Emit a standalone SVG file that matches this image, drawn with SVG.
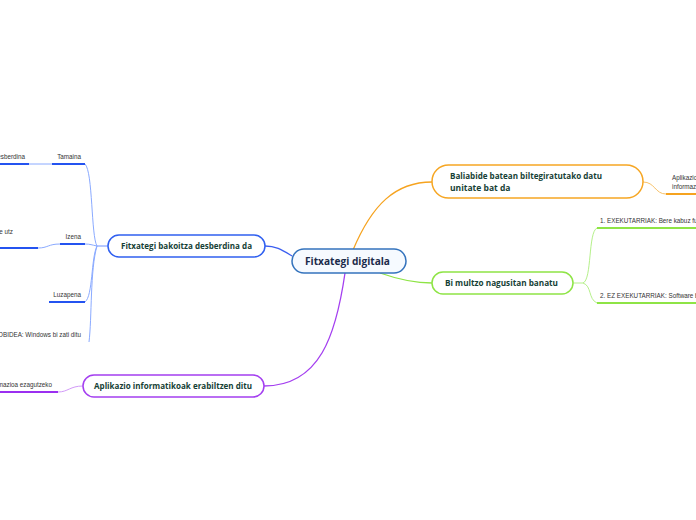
<svg xmlns="http://www.w3.org/2000/svg" width="696" height="520" viewBox="0 0 696 520">
<style>
.bg{fill:#ffffff}
.node{fill:#ffffff;stroke-width:1.5}
.nt{font-family:"Open Sans","Noto Sans",sans-serif;font-weight:700;font-size:8.5px;fill:#163f36}
.ct{font-family:"Open Sans","Noto Sans",sans-serif;font-weight:700;font-size:11px;fill:#1b2b4b}
.st{font-family:"Liberation Sans","Open Sans",sans-serif;font-size:6.3px;fill:#333333}
.c{fill:none}
.thin{fill:none;stroke-width:1}
.ul{fill:none;stroke-width:2}
</style>
<rect class="bg" x="0" y="0" width="696" height="520"/>
<g id="connectors">
  <path class="c" d="M292,256 C282,250 276,246 265,246" stroke="#3b5ef0" stroke-width="1.3"/>
  <path class="c" d="M353,250 C372,205 395,182 432,182" stroke="#f6a31f" stroke-width="1.3"/>
  <path class="c" d="M380,273 C400,280 414,283 432,283" stroke="#8ee445" stroke-width="1.3"/>
  <path class="c" d="M345,273 C336,335 320,386 264,386" stroke="#a43ff0" stroke-width="1.3"/>
  <!-- left sub-branches -->
  <path class="thin" d="M108,246 L97,246" stroke="#6f92ff"/>
  <path class="thin" d="M97,246 C91,236 93,172 85,164" stroke="#8aaaff"/>
  <path class="thin" d="M97,246 C92,245 90,244 85,244" stroke="#8aaaff"/>
  <path class="thin" d="M97,246 C91,258 93,296 85,302" stroke="#8aaaff"/>
  <path class="thin" d="M97,246 C90,270 92,318 89,342" stroke="#8aaaff"/>
  <path class="ul" d="M52,164 L85,164" stroke="#2453f0"/>
  <path class="thin" d="M29,164 L52,164" stroke="#8aaaff"/>
  <path class="ul" d="M0,164 L29,164" stroke="#2453f0"/>
  <path class="ul" d="M60,244 L85,244" stroke="#2453f0"/>
  <path class="thin" d="M38,248 C48,248 48,244 60,244" stroke="#8aaaff"/>
  <path class="ul" d="M0,248 L38,248" stroke="#2453f0"/>
  <path class="ul" d="M49,302 L85,302" stroke="#2453f0"/>
  <!-- purple sub-branch -->
  <path class="thin" d="M83,386 C70,386 68,392 58,392" stroke="#d29af8"/>
  <path class="ul" d="M0,392 L58,392" stroke="#9b2ff0"/>
  <!-- orange sub-branch -->
  <path class="thin" d="M643,182 C655,182 655,194 666,194" stroke="#f8c26a"/>
  <path class="ul" d="M666,194 L696,194" stroke="#f6a31f"/>
  <!-- green sub-branches -->
  <path class="thin" d="M573,283 L583,283" stroke="#b5f08a"/>
  <path class="thin" d="M583,283 C592,280 588,232 597,228" stroke="#b5f08a"/>
  <path class="thin" d="M583,283 C592,286 588,299 597,303" stroke="#b5f08a"/>
  <path class="ul" d="M597,228 L696,228" stroke="#8ee445"/>
  <path class="ul" d="M597,303 L696,303" stroke="#8ee445"/>
</g>
<g id="center">
  <rect x="292" y="249" width="114" height="24" rx="12" fill="#f6faff" stroke="#3473bd" stroke-width="1.5"/>
  <text class="ct" x="305" y="265" textLength="85" lengthAdjust="spacingAndGlyphs">Fitxategi digitala</text>
</g>
<g id="n-left">
  <rect class="node" x="108" y="235" width="157" height="22" rx="11" stroke="#3060f0"/>
  <text class="nt" x="121" y="249" textLength="131" lengthAdjust="spacingAndGlyphs">Fitxategi bakoitza desberdina da</text>
</g>
<g id="n-orange">
  <rect class="node" x="432" y="165" width="211" height="33" rx="16.5" stroke="#f6a623"/>
  <text class="nt" x="450" y="179" textLength="152" lengthAdjust="spacingAndGlyphs">Baliabide batean biltegiratutako datu</text>
  <text class="nt" x="450" y="191">unitate bat da</text>
</g>
<g id="n-green">
  <rect class="node" x="432" y="272" width="141" height="22" rx="11" stroke="#8ee445"/>
  <text class="nt" x="445" y="286" textLength="113" lengthAdjust="spacingAndGlyphs">Bi multzo nagusitan banatu</text>
</g>
<g id="n-purple">
  <rect class="node" x="83" y="375" width="181" height="22" rx="11" stroke="#a43ff0"/>
  <text class="nt" x="94" y="389" textLength="158" lengthAdjust="spacingAndGlyphs">Aplikazio informatikoak erabiltzen ditu</text>
</g>
<g id="s-tamaina"><text class="st" x="81" y="159" text-anchor="end">Tamaina</text></g>
<g id="s-tamaina-sub"><text class="st" x="25" y="159" text-anchor="end">esberdina</text></g>
<g id="s-izena"><text class="st" x="81" y="239" text-anchor="end">Izena</text></g>
<g id="s-izena-sub"><text class="st" x="13" y="234" text-anchor="end">e utz</text></g>
<g id="s-luzapena"><text class="st" x="81" y="297" text-anchor="end">Luzapena</text></g>
<g id="s-windows"><text class="st" x="81" y="337" text-anchor="end">OBIDEA: Windows bi zati ditu</text></g>
<g id="s-purple"><text class="st" x="52" y="387" text-anchor="end">rmazioa ezagutzeko</text></g>
<g id="s-orange"><text class="st" x="672" y="180">Aplikazio</text><text class="st" x="672" y="189">informazio</text></g>
<g id="s-green1"><text class="st" x="600" y="223">1. EXEKUTARRIAK: Bere kabuz funtzionatzen dute</text></g>
<g id="s-green2"><text class="st" x="600" y="298">2. EZ EXEKUTARRIAK: Software bat behar dute</text></g>
</svg>
